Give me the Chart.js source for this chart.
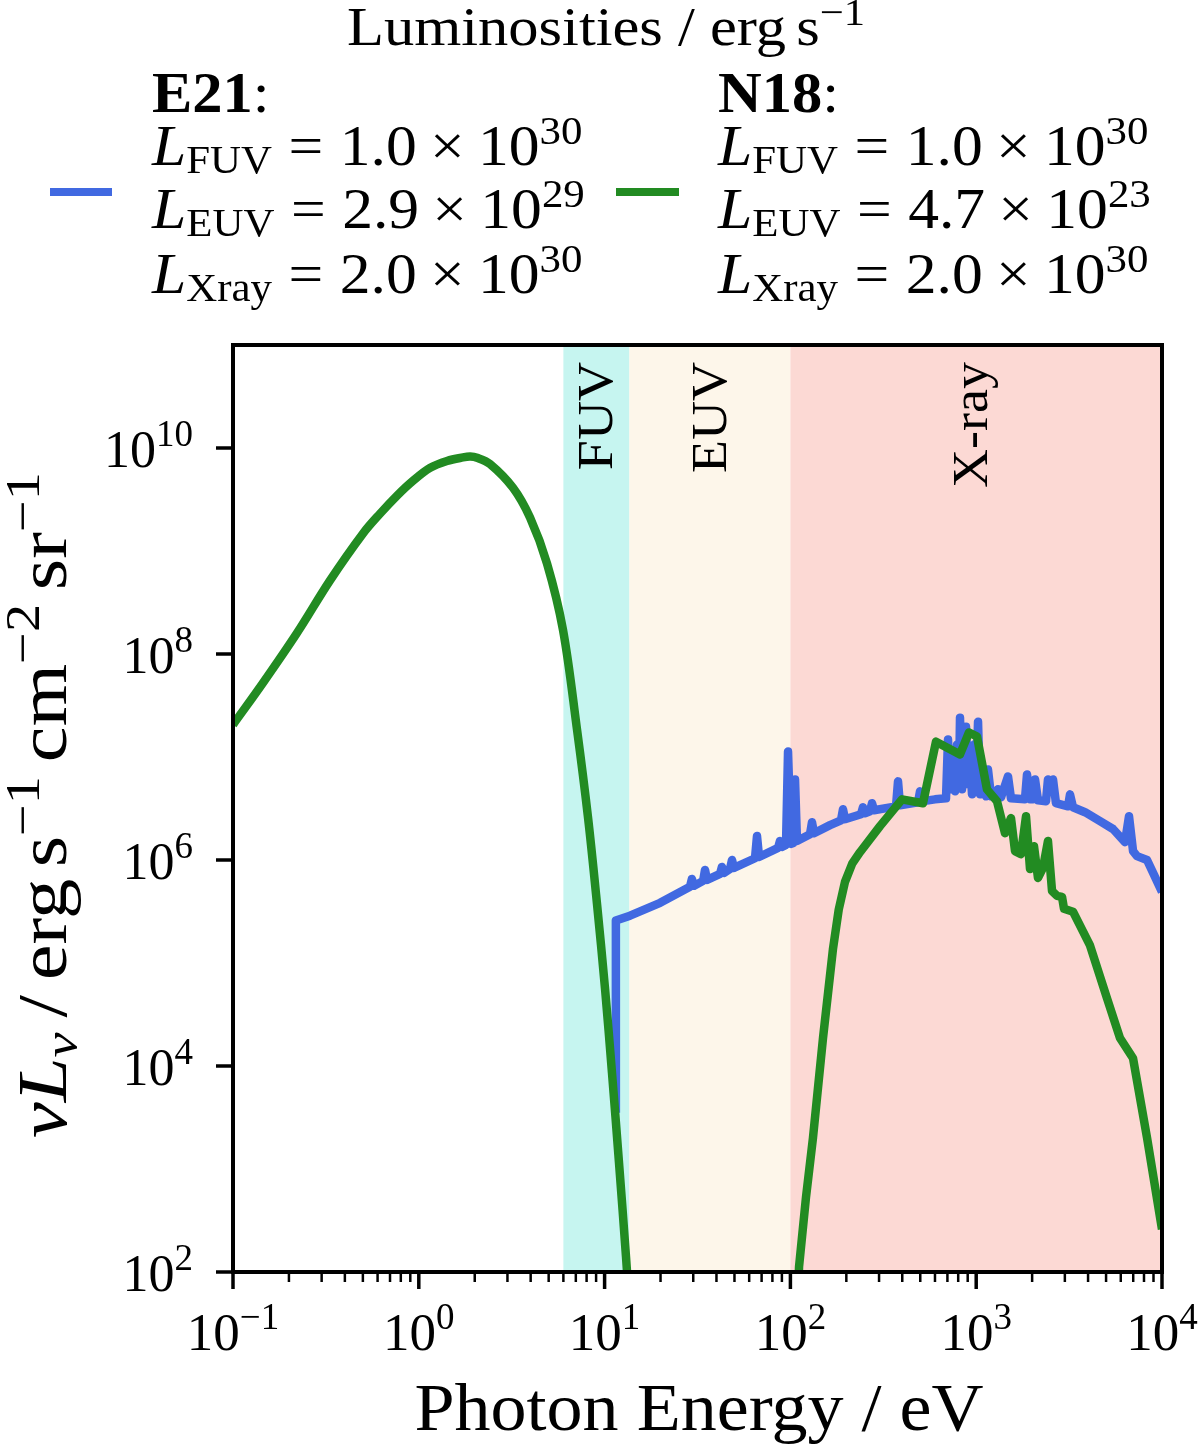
<!DOCTYPE html>
<html><head><meta charset="utf-8">
<script src="https://cdn.jsdelivr.net/npm/chart.js@4/dist/chart.umd.min.js"></script>
<style>html,body{margin:0;padding:0;background:#fff;}#wrap{width:1200px;height:1447px;}</style>
</head><body><div id="wrap"><canvas id="c" width="1200" height="1447"></canvas></div>
<script>
// ---------------- data ----------------
const e21Energy = [
11.5, 11.5, 13.7, 19.9, 28.8, 29.5, 30.3, 33.9, 34.7, 35.6,
41.8, 42.8, 43.9, 47.3, 48.5, 49.7, 64.5, 66.1, 67.8, 85.8,
87.9, 90.1, 94.7, 97.1, 100.7, 103.3, 105.9, 108.5, 127.5, 130.7,
134.0, 163.4, 187.2, 191.9, 196.7, 239.9, 245.9, 252.0, 268.2, 274.9,
281.8, 370.2, 379.5, 389.0, 486.3, 498.5, 510.9, 600.2, 687.9, 705.1,
722.8, 740.9, 768.9, 788.3, 808.0, 818.1, 838.6, 849.1, 870.4, 881.3,
903.4, 926.0, 949.3, 973.2, 997.5, 1023, 1048, 1102, 1129, 1157,
1202, 1310, 1360, 1483, 1539, 1830, 1877, 1948, 2022, 2073,
2151, 2375, 2434, 2496, 2590, 2688, 3120, 3198, 3319, 3852,
4638, 5449, 6323, 6645, 6984, 7338, 8307, 10000];
const e21Flux = [
3.52e3, 2.58e5, 2.88e5, 3.84e5, 5.49e5, 6.55e5, 5.61e5, 6.27e5, 8.00e5, 6.41e5,
7.33e5, 8.56e5, 7.49e5, 8.18e5, 1.00e6, 8.37e5, 1.04e6, 1.71e6, 1.07e6, 1.31e6,
1.53e6, 1.34e6, 1.40e6, 1.13e7, 1.43e6, 1.46e6, 6.06e6, 1.53e6, 1.78e6, 2.33e6,
1.82e6, 2.18e6, 2.43e6, 3.11e6, 2.49e6, 2.78e6, 3.25e6, 2.84e6, 2.97e6, 3.56e6,
3.04e6, 3.32e6, 5.80e6, 3.40e6, 3.63e6, 4.64e6, 3.72e6, 3.88e6, 3.97e6, 1.48e7,
4.85e6, 9.46e6, 4.64e6, 1.32e7, 5.42e6, 2.41e7, 4.85e6, 1.13e7, 5.42e6, 1.97e7,
6.06e6, 9.46e6, 4.34e6, 1.32e7, 4.85e6, 2.20e7, 4.34e6, 6.06e6, 4.15e6, 7.57e6,
4.15e6, 4.85e6, 4.06e6, 6.48e6, 3.97e6, 3.88e6, 6.78e6, 3.88e6, 3.88e6, 6.06e6,
3.80e6, 3.72e6, 6.06e6, 4.85e6, 6.06e6, 3.56e6, 3.32e6, 4.34e6, 3.25e6, 2.91e6,
2.38e6, 2.00e6, 1.49e6, 2.66e6, 1.22e6, 1.09e6, 1.00e6, 4.91e5];

const n18OpticalEnergy = [0.1, 0.145, 0.221, 0.333, 0.501, 0.618, 0.763, 0.931, 1.149, 1.418, 1.729, 1.89, 2.057, 2.416, 3.214, 3.968, 4.898, 5.973, 7.104, 8.14, 9.10, 10.05, 10.96, 11.95, 13.04, 13.70];
const n18OpticalFlux = [2.06e7, 5.25e7, 1.60e8, 5.19e8, 1.48e9, 2.30e9, 3.44e9, 4.80e9, 6.41e9, 7.49e9, 8.10e9, 8.25e9, 8.05e9, 7.00e9, 4.11e9, 2.11e9, 7.57e8, 1.71e8, 1.85e7, 2.60e6, 3.76e5, 5.67e4, 8.55e3, 1.16e3, 140, 36.7];

const n18XrayEnergy = [108.5, 111.3, 121.3, 132.3, 149.8, 169.6, 182.0, 196.7, 215.0, 236.9, 303.5, 398.7, 517.2, 607.6, 818.1, 914.6, 1010, 1143, 1294, 1429, 1539, 1618, 1742, 1854, 1948, 2047, 2151, 2288, 2434, 2559, 2722, 2896, 2969, 3319, 4098, 5058, 5940, 6984, 8307, 10000];
const n18XrayFlux = [29.4, 112, 531, 2.01e3, 1.87e4, 1.38e5, 3.3e5, 6.13e5, 9.2e5, 1.19e6, 2.13e6, 3.88e6, 3.56e6, 1.41e7, 1.06e7, 1.73e7, 1.58e7, 4.85e6, 3.72e6, 1.82e6, 2.55e6, 1.22e6, 1.14e6, 2.66e6, 8.18e5, 1.36e6, 6.70e5, 8.37e5, 1.53e6, 5.01e5, 4.49e5, 4.39e5, 3.36e5, 3.15e5, 1.48e5, 4.54e4, 1.87e4, 1.19e4, 2.01e3, 260];

const bandEdges = [6, 13.6, 100, 10000];
const bandNames = ['FUV', 'EUV', 'X-ray'];
const bandColors = ['#c6f5f0', '#fdf6ea', '#fcd9d4'];

const xMajorTicks = [0.1, 1, 10, 100, 1000, 10000];
const xTickExponents = ['\u22121', '0', '1', '2', '3', '4'];
const yMajorTicks = [1e2, 1e4, 1e6, 1e8, 1e10];
const yTickExponents = ['2', '4', '6', '8', '10'];

const legendNames = ['E21', 'N18'];
const legendColors = ['#4169e1', '#228b22'];
const lumBands = ['FUV', 'EUV', 'Xray'];
const e21Lum = ['1.0', '2.9', '2.0'];
const e21LumExp = ['30', '29', '30'];
const n18Lum = ['1.0', '4.7', '2.0'];
const n18LumExp = ['30', '23', '30'];

// ---------------- helpers ----------------
const FONT = '"Liberation Serif", "Times New Roman", serif';
function fontStr(r){ return (r.it ? 'italic ' : '') + (r.bold ? 'bold ' : '') + r.size + 'px ' + FONT; }
function richWidth(ctx, runs){
  let w = 0;
  for (const r of runs){ if (r.gap){ w += r.gap; continue; } ctx.font = fontStr(r); w += ctx.measureText(r.t).width; }
  return w;
}
function drawRich(ctx, runs, x, y, align, stretch){
  stretch = stretch || 1;
  const w = richWidth(ctx, runs) * stretch;
  const sx = align === 'center' ? x - w / 2 : (align === 'right' ? x - w : x);
  ctx.save();
  ctx.translate(sx, y); ctx.scale(stretch, 1);
  ctx.textAlign = 'left'; ctx.textBaseline = 'alphabetic'; ctx.fillStyle = '#000';
  let cx = 0;
  for (const r of runs){
    if (r.gap){ cx += r.gap; continue; }
    ctx.font = fontStr(r); ctx.fillText(r.t, cx, r.dy || 0); cx += ctx.measureText(r.t).width;
  }
  ctx.restore();
}
const pts = (xs, ys) => xs.map((x, i) => ({x: x, y: ys[i]}));

// ---------------- plugins ----------------
const bandsPlugin = {
  id: 'bands',
  beforeDatasetsDraw(chart){
    const {ctx, chartArea: a, scales: {x}} = chart;
    ctx.save();
    for (let i = 0; i < bandNames.length; i++){
      const x0 = x.getPixelForValue(bandEdges[i]);
      const x1 = x.getPixelForValue(bandEdges[i + 1]);
      ctx.fillStyle = bandColors[i];
      ctx.fillRect(x0, a.top, x1 - x0, a.bottom - a.top);
    }
    ctx.restore();
  }
};

const decorPlugin = {
  id: 'decor',
  afterDraw(chart){
    const {ctx, chartArea: a, scales: {x, y}} = chart;
    ctx.save();
    // band labels
    for (let i = 0; i < bandNames.length; i++){
      const cxp = x.getPixelForValue(Math.sqrt(bandEdges[i] * bandEdges[i + 1]));
      ctx.save();
      ctx.font = '51px ' + FONT;
      const m = ctx.measureText(bandNames[i]);
      const base = (m.actualBoundingBoxAscent - m.actualBoundingBoxDescent) / 2;
      ctx.translate(cxp, a.top + 17);
      ctx.rotate(-Math.PI / 2);
      drawRich(ctx, [{t: bandNames[i], size: 51}], 0, base, 'right', 1.06);
      ctx.restore();
    }
    // frame
    ctx.strokeStyle = '#000'; ctx.lineWidth = 4;
    ctx.strokeRect(a.left, a.top, a.right - a.left, a.bottom - a.top);
    // x ticks
    ctx.lineCap = 'butt';
    for (let i = 0; i < xMajorTicks.length; i++){
      const px = x.getPixelForValue(xMajorTicks[i]);
      ctx.lineWidth = 3.5;
      ctx.beginPath(); ctx.moveTo(px, a.bottom); ctx.lineTo(px, a.bottom + 17); ctx.stroke();
      drawRich(ctx, [{t: '10', size: 53}, {t: xTickExponents[i], size: 37, dy: -21}], px, a.bottom + 78, 'center', 1);
      if (i < xMajorTicks.length - 1){
        for (let m = 2; m <= 9; m++){
          const pm = x.getPixelForValue(xMajorTicks[i] * m);
          ctx.lineWidth = 2.5;
          ctx.beginPath(); ctx.moveTo(pm, a.bottom); ctx.lineTo(pm, a.bottom + 10); ctx.stroke();
        }
      }
    }
    // y ticks
    for (let i = 0; i < yMajorTicks.length; i++){
      const py = y.getPixelForValue(yMajorTicks[i]);
      ctx.lineWidth = 3.5;
      ctx.beginPath(); ctx.moveTo(a.left, py); ctx.lineTo(a.left - 17, py); ctx.stroke();
      drawRich(ctx, [{t: '10', size: 52}, {t: yTickExponents[i], size: 37, dy: -21}], a.left - 40, py + 19, 'right', 1);
    }
    // axis titles
    drawRich(ctx, [{t: 'Photon Energy / eV', size: 68}], 699, 1430, 'center', 1.06);
    ctx.save();
    ctx.translate(66, 805); ctx.rotate(-Math.PI / 2);
    drawRich(ctx, [
      {t: '\u03bdL', it: true, size: 70}, {t: '\u03bd', it: true, size: 49, dy: 11}, {gap: 13},
      {t: '/', size: 70}, {gap: 13}, {t: 'erg', size: 70}, {gap: 10}, {t: 's', size: 70},
      {t: '\u22121', size: 49, dy: -27}, {gap: 12}, {t: 'cm', size: 70},
      {t: '\u22122', size: 49, dy: -27}, {gap: 12}, {t: 'sr', size: 70},
      {t: '\u22121', size: 49, dy: -27}
    ], 0, 0, 'center', 1.15);
    ctx.restore();
    // legend
    drawRich(ctx, [{t: 'Luminosities / erg', size: 54}, {gap: 9}, {t: 's', size: 54}, {t: '\u22121', size: 38, dy: -20}], 606, 45, 'center', 1.12);
    const cols = [{hx0: 50, hx1: 112, tx: 152, lum: e21Lum, exp: e21LumExp}, {hx0: 616, hx1: 679, tx: 718, lum: n18Lum, exp: n18LumExp}];
    const rowBase = [165, 228, 293];
    cols.forEach((c, k) => {
      ctx.strokeStyle = legendColors[k]; ctx.lineWidth = 8; ctx.lineCap = 'butt';
      ctx.beginPath(); ctx.moveTo(c.hx0, 192); ctx.lineTo(c.hx1, 192); ctx.stroke();
      drawRich(ctx, [{t: legendNames[k], bold: true, size: 56}, {t: ':', size: 56}], c.tx, 112, 'left', 1.08);
      for (let r = 0; r < 3; r++){
        drawRich(ctx, [
          {t: 'L', it: true, size: 56}, {t: lumBands[r], size: 39, dy: 8}, {gap: 15},
          {t: '=', size: 56}, {gap: 15}, {t: c.lum[r], size: 56}, {gap: 12},
          {t: '\u00d7', size: 56}, {gap: 12}, {t: '10', size: 56}, {t: c.exp[r], size: 39, dy: -21}
        ], c.tx, rowBase[r], 'left', 1.1);
      }
    });
    ctx.restore();
  }
};

// ---------------- chart ----------------
const chart = new Chart(document.getElementById('c').getContext('2d'), {
  type: 'line',
  data: {
    datasets: [
      {label: 'N18', data: pts(n18OpticalEnergy, n18OpticalFlux), borderColor: '#228b22', borderWidth: 8.5,
       pointRadius: 0, tension: 0.35, borderJoinStyle: 'round', clip: 0, order: 0},
      {label: 'N18 X-ray', data: pts(n18XrayEnergy, n18XrayFlux), borderColor: '#228b22', borderWidth: 8.5,
       pointRadius: 0, tension: 0, borderJoinStyle: 'round', clip: 0, order: 1},
      {label: 'E21', data: pts(e21Energy, e21Flux), borderColor: '#4169e1', borderWidth: 8.5,
       pointRadius: 0, tension: 0, borderJoinStyle: 'round', clip: 0, order: 2}
    ]
  },
  options: {
    responsive: false, animation: false, devicePixelRatio: 1, events: [],
    layout: {padding: {left: 233, right: 38, top: 345, bottom: 175}},
    plugins: {legend: {display: false}, tooltip: {enabled: false}, title: {display: false}},
    scales: {
      x: {type: 'logarithmic', min: 0.1, max: 10000, display: false},
      y: {type: 'logarithmic', min: 100, max: 1e11, display: false}
    }
  },
  plugins: [bandsPlugin, decorPlugin]
});
</script></body></html>
